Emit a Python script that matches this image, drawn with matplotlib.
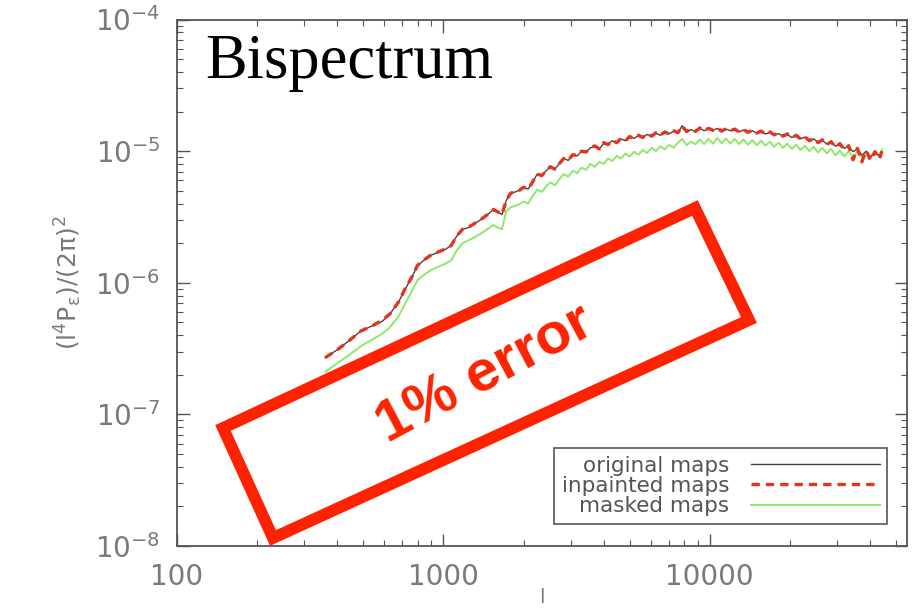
import numpy as np
import matplotlib.pyplot as plt
from matplotlib.patches import Polygon

plt.rcParams['mathtext.default'] = 'regular'

# multipole l and bispectrum values (units of 1e-6)
ell = [360, 400, 440, 490, 540, 590, 630, 680, 720, 760, 800, 850, 900, 960,
       1020, 1070, 1120, 1180, 1240, 1300, 1360, 1420, 1480, 1540, 1600, 1660,
       1720, 1790, 1860, 1930, 2000, 2080, 2160, 2250, 2340, 2430, 2520, 2620,
       2720, 2830, 2940, 3060, 3180, 3300, 3430, 3560, 3700, 3850, 4000, 4150,
       4300, 4470, 4640, 4820, 5000, 5200, 5400, 5600, 5820, 6050, 6280, 6520,
       6780, 7040, 7310, 7590, 7880, 8180, 8500, 8830, 9170, 9520, 9890, 10270,
       10670, 11080, 11510, 11950, 12410, 12890, 13390, 13900, 14440, 15000,
       15580, 16180, 16800, 17450, 18120, 18820, 19550, 20300, 21090, 21900,
       22750, 23630, 24540, 25480, 26470, 27490, 28550, 29650, 30800, 31990,
       33220, 34500, 35830, 37220, 38650, 40140, 41690, 43300, 44300]

original = [0.27, 0.31, 0.36, 0.43, 0.47, 0.51, 0.58, 0.72, 0.90, 1.10, 1.35,
            1.50, 1.62, 1.72, 1.80, 1.92, 2.25, 2.55, 2.62, 2.80, 2.95, 3.15,
            3.35, 3.60, 3.45, 3.30, 4.20, 4.80, 4.90, 5.05, 5.30, 5.15, 5.80,
            6.70, 6.50, 7.10, 7.60, 7.30, 8.00, 8.80, 8.50, 9.40, 9.20, 10.0,
            9.80, 10.6, 10.9, 10.4, 11.5, 11.2, 12.0, 11.6, 12.4, 12.0, 12.8,
            12.5, 13.1, 12.7, 13.4, 13.0, 13.7, 13.2, 13.9, 13.5, 14.2, 13.8,
            15.6, 14.0, 14.6, 14.1, 14.9, 14.3, 14.8, 14.4, 14.9, 14.2, 14.7,
            14.3, 14.6, 14.0, 14.5, 13.9, 14.3, 13.7, 14.1, 13.5, 13.9, 13.3,
            13.6, 13.0, 13.4, 12.7, 13.1, 12.4, 12.8, 12.0, 12.4, 11.7, 12.1,
            11.3, 11.7, 10.9, 11.3, 10.5, 10.9, 9.9, 10.4, 9.3, 10.0, 9.0, 9.8,
            9.2, 9.9]

inpainted = [0.27, 0.31, 0.36, 0.43, 0.47, 0.52, 0.58, 0.72, 0.91, 1.10, 1.36,
             1.50, 1.63, 1.72, 1.81, 1.92, 2.26, 2.55, 2.63, 2.80, 2.96, 3.15,
             3.36, 3.60, 3.46, 3.30, 4.22, 4.80, 4.92, 5.05, 5.32, 5.15, 5.82,
             6.70, 6.52, 7.10, 7.62, 7.30, 8.02, 8.80, 8.52, 9.40, 9.25, 10.0,
             9.85, 10.6, 10.95, 10.4, 11.6, 11.2, 12.1, 11.6, 12.5, 12.0, 12.9,
             12.5, 13.2, 12.7, 13.5, 13.0, 13.8, 13.2, 14.0, 13.5, 14.3, 13.8,
             15.5, 14.1, 14.7, 14.1, 15.0, 14.3, 14.9, 14.4, 15.0, 14.2, 14.8,
             14.3, 14.7, 14.0, 14.6, 13.9, 14.4, 13.7, 14.2, 13.5, 14.0, 13.3,
             13.7, 13.0, 13.5, 12.7, 13.2, 12.4, 12.9, 12.0, 12.5, 11.6, 12.2,
             11.2, 11.8, 10.7, 11.4, 10.2, 11.0, 8.6, 10.5, 8.3, 10.1, 8.5, 9.9,
             8.7, 10.0]

masked = [0.21, 0.245, 0.28, 0.33, 0.37, 0.41, 0.46, 0.56, 0.70, 0.86, 1.05,
          1.16, 1.25, 1.33, 1.40, 1.48, 1.75, 2.00, 2.10, 2.20, 2.32, 2.45,
          2.60, 2.75, 2.62, 2.55, 3.50, 3.75, 3.85, 3.95, 4.15, 4.00, 4.55,
          5.10, 4.90, 5.40, 5.80, 5.50, 6.10, 6.70, 6.40, 7.10, 6.80, 7.50,
          7.20, 8.00, 7.60, 8.30, 8.00, 8.80, 8.40, 9.20, 8.80, 9.60, 9.10,
          9.90, 9.40, 10.2, 9.70, 10.6, 10.0, 10.9, 10.3, 11.2, 10.6, 11.6,
          12.4, 11.1, 11.8, 11.3, 12.3, 11.3, 12.4, 11.4, 12.6, 11.5, 12.5,
          11.4, 12.4, 11.3, 12.3, 11.2, 12.1, 11.1, 12.0, 11.0, 11.8, 10.8,
          11.6, 10.6, 11.4, 10.4, 11.2, 10.2, 11.0, 10.0, 10.8, 9.8, 10.6,
          9.6, 10.4, 9.3, 10.1, 9.1, 10.0, 9.0, 9.9, 8.9, 9.8, 9.0, 10.0, 9.1,
          10.3]

labels = ['original maps', 'inpainted maps', 'masked maps']

ell = np.array(ell)
scale = 1e-6
red = '#fe2200'
gray = '#7a7a7a'

fig = plt.figure(figsize=(9.24, 6.14), dpi=100)
ax = fig.add_axes([0.1916, 0.1107, 0.79, 0.8575])

ax.plot(ell, np.array(masked) * scale, color='#8ee86a', lw=1.4, label=labels[2], zorder=2)
ax.plot(ell, np.array(original) * scale, color='#444444', lw=1.0, label=labels[0], zorder=3)
ax.plot(ell, np.array(inpainted) * scale, color='#e8331c', lw=2.4, ls=(0, (2.5, 1.8)),
        label=labels[1], zorder=4)

ax.set_xscale('log')
ax.set_yscale('log')
ax.set_xlim(100, 55000)
ax.set_ylim(1e-8, 1e-4)

ax.set_xticks([100, 1000, 10000])
ax.set_xticklabels(['100', '1000', '10000'])
ax.tick_params(which='both', direction='in', top=True, right=True, color='#555555')
ax.tick_params(which='major', length=9, width=1.0, labelsize=20, labelcolor=gray)
ax.tick_params(which='minor', length=4.5, width=0.8)
ax.tick_params(axis='x', pad=12)
ax.tick_params(axis='y', pad=12)
for s in ax.spines.values():
    s.set_color('#555555')
    s.set_linewidth(1.3)

ax.set_ylabel(r'$(l^4P_\epsilon)/(2\pi)^2$', fontsize=18, color=gray, labelpad=8)
ax.set_xlabel('l', fontsize=14, color=gray)
ax.xaxis.set_label_coords(0.5, -0.08)

h, l = ax.get_legend_handles_labels()
order = [1, 2, 0]
leg = ax.legend([h[i] for i in order], [l[i] for i in order], loc='lower right',
                bbox_to_anchor=(0.973, 0.042), borderaxespad=0, fontsize=15.5,
                labelcolor='#555555', markerfirst=False, handlelength=6.0,
                handletextpad=1.0, labelspacing=0.02, borderpad=0.35,
                fancybox=False, framealpha=1)
leg.get_frame().set_edgecolor('#555555')
leg.get_frame().set_linewidth(1.2)

fig.text(205 / 924, 1 - 78 / 614, 'Bispectrum', fontsize=45,
         family='Liberation Serif', va='baseline', ha='left')

# red annotation box
corners = [(223, 428), (695, 208), (749, 320), (273, 538)]
box = Polygon([(x / 924, 1 - y / 614) for x, y in corners], closed=True, fill=False,
              ec=red, lw=8.5, joinstyle='miter', transform=fig.transFigure, zorder=10)
fig.patches.append(box)
fig.text(485 / 924, 1 - 375 / 614, '1% error', fontsize=42, weight='bold',
         family='Liberation Sans', color=red, rotation=28, rotation_mode='anchor',
         ha='center', va='center')

fig.savefig('out.png', dpi=100)
